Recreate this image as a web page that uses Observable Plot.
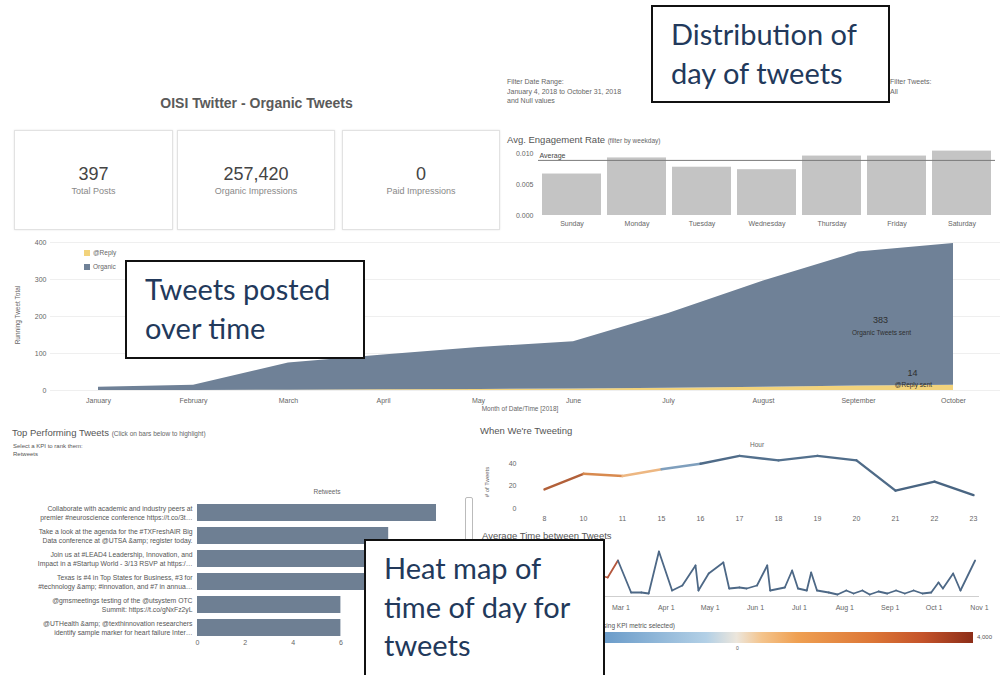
<!DOCTYPE html>
<html><head><meta charset="utf-8">
<script src="https://cdn.jsdelivr.net/npm/d3@7"></script>
<script src="https://cdn.jsdelivr.net/npm/@observablehq/plot@0.6"></script>
<style>
html,body{margin:0;padding:0;background:#fff;}
body{width:1005px;height:675px;position:relative;overflow:hidden;font-family:"Liberation Sans",Arial,sans-serif;color:#555;}
.abs{position:absolute;white-space:nowrap;}
.sec{font-size:9.5px;color:#555;}
.sec small{font-size:6.5px;color:#666;}
.tiny{font-size:7px;line-height:9.5px;color:#666;}
.card{position:absolute;border:1px solid #e2e2e2;box-shadow:0 0 2px rgba(0,0,0,0.10);background:#fff;text-align:center;box-sizing:border-box;}
.card .num{font-size:18px;color:#444;margin-top:33px;line-height:20px;}
.card .lbl{font-size:9px;color:#888;line-height:11px;margin-top:2px;}
.note{position:absolute;background:#fff;border:2px solid #111;box-sizing:border-box;padding:8px 0 0 18px;font-family:Lato,"Open Sans",sans-serif;font-size:29px;line-height:38.5px;color:#22395b;z-index:10;white-space:nowrap;}
.chart{position:absolute;}
</style></head><body>
<script>
// ---------------- data ----------------
const kpiValues = ["397", "257,420", "0"];
const kpiLabels = ["Total Posts", "Organic Impressions", "Paid Impressions"];

const weekdays = ["Sunday","Monday","Tuesday","Wednesday","Thursday","Friday","Saturday"];
const engagementRate = [0.0067,0.0093,0.0078,0.0074,0.0096,0.0096,0.0104];
const engagementAvg = 0.0089;

const months = ["January","February","March","April","May","June","July","August","September","October"];
const organicRunning = [9,14,73,94,113,128,202,287,362,383];
const replyRunning = [0,0,1,2,3,4,6,9,12,14];

const tweets = [
  "Collaborate with academic and industry peers at\npremier #neuroscience conference https://t.co/3t…",
  "Take a look at the agenda for the #TXFreshAIR Big\nData conference at @UTSA &amp; register today.",
  "Join us at #LEAD4 Leadership, Innovation, and\nImpact in a #Startup World - 3/13 RSVP at https:/…",
  "Texas is #4 in Top States for Business, #3 for\n#technology &amp; #innovation, and #7 in annua…",
  "@gmsmeetings testing of the @utsystem OTC\nSummit: https://t.co/gNxFz2yL",
  "@UTHealth &amp; @texthinnovation researchers\nidentify sample marker for heart failure Inter…"
];
const retweets = [10,8,8,8,6,6];
const retweetTicks = [0,2,4,6];

const hours = ["8","10","11","15","16","17","18","19","20","21","22","23"];
const tweetsByHour = [17,31,29,35,40,47,43,47,43,16,24,12];
const hourKpi = [3400,2600,1500,600,-2600,-2800,-2300,-2800,-2500,-2900,-2900,-2900];

const gapDates = ["2018-01-10","2018-01-22","2018-02-03","2018-02-12","2018-02-20","2018-02-27","2018-03-08","2018-03-15","2018-03-20","2018-03-27","2018-04-05","2018-04-12","2018-04-21","2018-04-23","2018-04-30","2018-05-10","2018-05-14","2018-05-21","2018-05-26","2018-06-02","2018-06-09","2018-06-11","2018-06-21","2018-06-26","2018-06-30","2018-07-06","2018-07-09","2018-07-13","2018-07-21","2018-07-27","2018-08-02","2018-08-07","2018-08-13","2018-08-18","2018-08-24","2018-08-30","2018-09-05","2018-09-11","2018-09-17","2018-09-23","2018-09-29","2018-10-04","2018-10-07","2018-10-14","2018-10-19","2018-10-29"];
const gapDays = [1.5,2.6,0.9,2.2,1.9,3.6,0.4,0.4,0.3,4.5,0.6,1.1,3.1,0.6,2.3,3.4,0.8,0.9,0.8,1.1,3.1,0.6,0.9,2.6,0.8,0.6,2.4,0.6,0.4,0.2,0.6,0.3,0.6,0.2,0.5,0.3,0.6,0.3,0.6,0.3,0.4,1.4,0.8,2.3,0.6,3.6];
const gapTickDates = ["2018-03-01","2018-04-01","2018-05-01","2018-06-01","2018-07-01","2018-08-01","2018-09-01","2018-10-01","2018-11-01"];

// ---------------- helpers ----------------
const FONT = '"Liberation Sans", Arial, sans-serif';
const baseStyle = {fontSize: "7px", fontFamily: FONT, color: "#666", background: "transparent", overflow: "visible"};
function place(node, left, top, cls) {
  const d = document.createElement("div");
  d.className = cls || "chart";
  d.style.left = left + "px"; d.style.top = top + "px";
  d.appendChild(node);
  document.body.appendChild(d);
  return d;
}
function text(html, left, top, cls, extra) {
  const d = document.createElement("div");
  d.className = "abs " + (cls || "");
  d.style.left = left + "px"; d.style.top = top + "px";
  if (extra) Object.assign(d.style, extra);
  d.innerHTML = html;
  document.body.appendChild(d);
  return d;
}

// ---------------- header + KPI cards ----------------
text("OISI Twitter - Organic Tweets", 0, 95, "", {width: "513px", textAlign: "center", fontSize: "14px", fontWeight: "bold", color: "#5a5a5a"});
const cardX = [14, 177, 342];
const cardW = [159, 158, 158];
kpiValues.forEach((v, i) => {
  const c = document.createElement("div");
  c.className = "card";
  Object.assign(c.style, {left: cardX[i] + "px", top: "130px", width: cardW[i] + "px", height: "100px"});
  c.innerHTML = `<div class="num">${v}</div><div class="lbl">${kpiLabels[i]}</div>`;
  document.body.appendChild(c);
});

text("Filter Date Range:<br>January 4, 2018 to October 31, 2018<br>and Null values", 507, 77, "tiny");
text("Filter Tweets:<br>All", 890, 77, "tiny");

// ---------------- weekday bars ----------------
text('Avg. Engagement Rate <small>(filter by weekday)</small>', 507, 134, "sec");
const dayData = weekdays.map((d, i) => ({day: d, rate: engagementRate[i]}));
place(Plot.plot({
  width: 505, height: 93, marginLeft: 38, marginRight: 10, marginTop: 10, marginBottom: 18,
  style: baseStyle,
  x: {domain: weekdays, paddingInner: 0.09, paddingOuter: 0.02, label: null, tickSize: 0, tickPadding: 6},
  y: {domain: [0, 0.0105], ticks: [0, 0.005, 0.01], tickFormat: ".3f", label: null, tickSize: 0, tickPadding: 5},
  marks: [
    Plot.barY(dayData, {x: "day", y: "rate", fill: "#c4c4c4"}),
    Plot.ruleY([engagementAvg], {stroke: "#7a7a7a", strokeWidth: 1}),
    Plot.text([engagementAvg], {y: d => d, text: () => "Average", frameAnchor: "left", textAnchor: "start", dx: 1, dy: -5, fill: "#444", fontSize: 7})
  ]
}), 500, 140);

// ---------------- running total area ----------------
const areaRows = [];
months.forEach((m, i) => areaRows.push({month: m, type: "@Reply", n: replyRunning[i]}));
months.forEach((m, i) => areaRows.push({month: m, type: "Organic", n: organicRunning[i]}));
const last = months.length - 1;
place(Plot.plot({
  width: 1005, height: 180, marginLeft: 50, marginRight: 5, marginTop: 7, marginBottom: 25,
  style: baseStyle,
  x: {type: "point", domain: months, padding: 0.494, label: null, tickSize: 0, tickPadding: 8},
  y: {domain: [0, 400], ticks: [0, 100, 200, 300, 400], label: null, tickSize: 0, tickPadding: 4, grid: true},
  color: {domain: ["@Reply", "Organic"], range: ["#f2d37c", "#6f8197"]},
  marks: [
    Plot.areaY(areaRows, {x: "month", y: "n", fill: "type", z: "type"}),
    Plot.text([{m: months[last], y: replyRunning[last] + organicRunning[last] / 2, t: String(organicRunning[last])}],
      {x: "m", y: "y", text: "t", dx: -73, dy: 6, fontSize: 9, fill: "#2e2e2e"}),
    Plot.text([{m: months[last], y: replyRunning[last] + organicRunning[last] / 2}],
      {x: "m", y: "y", text: () => "Organic Tweets sent", dx: -72, dy: 18, fontSize: 6.5, fill: "#2e2e2e"}),
    Plot.text([{m: months[last], y: replyRunning[last], t: String(replyRunning[last])}],
      {x: "m", y: "y", text: "t", dx: -41, dy: -12, fontSize: 9, fill: "#2e2e2e"}),
    Plot.text([{m: months[last], y: replyRunning[last]}],
      {x: "m", y: "y", text: () => "@Reply sent", dx: -40, dy: 0, fontSize: 6.5, fill: "#2e2e2e"})
  ]
}), 0, 235);
text("Running Tweet Total", 17, 315, "", {fontSize: "6.5px", color: "#666", transform: "translate(-50%,-50%) rotate(-90deg)"});
text("Month of Date/Time [2018]", 520, 405, "", {fontSize: "6.5px", color: "#666", transform: "translateX(-50%)"});
// legend
text("", 84, 250, "", {width: "6px", height: "6px", background: "#f2d37c"});
text("@Reply", 93, 249, "", {fontSize: "6.5px", color: "#666"});
text("", 84, 264, "", {width: "6px", height: "6px", background: "#6f8197"});
text("Organic", 93, 263, "", {fontSize: "6.5px", color: "#666"});

// ---------------- top performing tweets ----------------
text('Top Performing Tweets <small>(Click on bars below to highlight)</small>', 12, 427, "sec");
text("Select a KPI to rank them:<br>Retweets", 13, 443, "", {fontSize: "6px", lineHeight: "7.5px", color: "#555"});
text("Retweets", 327, 488, "", {fontSize: "6.5px", color: "#666", transform: "translateX(-50%)"});
const tweetData = tweets.map((t, i) => ({tweet: t, n: retweets[i]}));
place(Plot.plot({
  width: 460, height: 167, marginLeft: 197, marginRight: 2.5, marginTop: 14, marginBottom: 14,
  style: baseStyle,
  x: {domain: [0, 10.9], ticks: retweetTicks, label: null, tickSize: 0, tickPadding: 1},
  y: {domain: tweets, paddingInner: 0.28, paddingOuter: 0.1, axis: null},
  marks: [
    Plot.barX(tweetData, {y: "tweet", x: "n", fill: "#6e7f93"}),
    Plot.text(tweetData, {y: "tweet", text: "tweet", frameAnchor: "left", textAnchor: "end", dx: -5, fontSize: 6.8, lineHeight: 1.3, fill: "#555"})
  ]
}), 0, 486);
text("", 465, 497, "", {width: "6px", height: "44px", border: "1px solid #bbb", borderRadius: "2px"});

// ---------------- when we're tweeting ----------------
text("When We're Tweeting", 480, 425, "sec");
text("Hour", 757, 441, "", {fontSize: "6.5px", color: "#666", transform: "translateX(-50%)"});
text("# of Tweets", 487, 482, "", {fontSize: "6px", color: "#666", transform: "translate(-50%,-50%) rotate(-90deg)"});
const heat = d3.scaleLinear().domain([-3000, -1000, 0, 1500, 4000]).range(["#46627f", "#7f9fbd", "#e9e4dc", "#eea35c", "#8a3322"]);
const hourSegs = d3.pairs(hours.map((h, i) => ({h, n: tweetsByHour[i], k: hourKpi[i]})))
  .map(([a, b]) => ({x1: a.h, x2: b.h, y1: a.n, y2: b.n, c: heat((a.k + b.k) / 2)}));
place(Plot.plot({
  width: 535, height: 84, marginLeft: 50, marginRight: 9, marginTop: 12, marginBottom: 16,
  style: baseStyle,
  x: {type: "point", domain: hours, padding: 0.505, label: null, tickSize: 0, tickPadding: 8},
  y: {domain: [0, 50], ticks: [0, 20, 40], label: null, tickSize: 0, tickPadding: 4},
  color: {type: "identity"},
  marks: [
    Plot.link(hourSegs, {x1: "x1", x2: "x2", y1: "y1", y2: "y2", stroke: "c", strokeWidth: 2.4, strokeLinecap: "round"})
  ]
}), 470, 440);

// ---------------- average time between tweets ----------------
text("Average Time between Tweets", 482, 530, "sec");
const gapPts = gapDates.map((d, i) => ({date: new Date(d), v: gapDays[i]}));
const redUntil = new Date("2018-02-27");
const gapSegs = d3.pairs(gapPts).map(([a, b]) => ({x1: a.date, x2: b.date, y1: a.v, y2: b.v, c: a.date < redUntil ? "#b4573d" : "#4d6886"}));
place(Plot.plot({
  width: 535, height: 72, marginLeft: 64, marginRight: 26, marginTop: 6, marginBottom: 16,
  style: baseStyle,
  x: {type: "utc", domain: [new Date("2018-01-01"), new Date("2018-11-01")], ticks: gapTickDates.map(d => new Date(d)), tickFormat: d3.utcFormat("%b %-d"), label: null, tickSize: 0, tickPadding: 9},
  y: {domain: [0, 5], axis: null},
  color: {type: "identity"},
  marks: [
    Plot.ruleY([0], {stroke: "#cfcfcf"}),
    Plot.link(gapSegs, {x1: "x1", x2: "x2", y1: "y1", y2: "y2", stroke: "c", strokeWidth: 1.8, strokeLinecap: "round"})
  ]
}), 470, 540);

// ---------------- colour legend ----------------
text("Color (using KPI metric selected)", 580, 622, "", {fontSize: "6.5px", color: "#555"});
text("", 470, 632, "", {width: "503px", height: "11px",
  background: "linear-gradient(to right, #3f78b4 0%, #6f9fcb 28%, #b3d0e6 47%, #ece6dc 53%, #f4c48c 58%, #efa052 65%, #dc7636 80%, #c4532a 90%, #8c2d18 100%)"});
text("4,000", 977, 634, "", {fontSize: "6px", color: "#555"});
text("0", 736, 645, "", {fontSize: "5px", color: "#555"});

// ---------------- annotation boxes ----------------
text("Distribution of<br>day of tweets", 651, 5, "note", {width: "239px", height: "98px"});
text("Tweets posted<br>over time", 125, 260, "note", {width: "240px", height: "99px"});
text("Heat map of<br>time of day for<br>tweets", 364, 539, "note", {width: "241px", height: "150px"});
</script>
</body></html>
